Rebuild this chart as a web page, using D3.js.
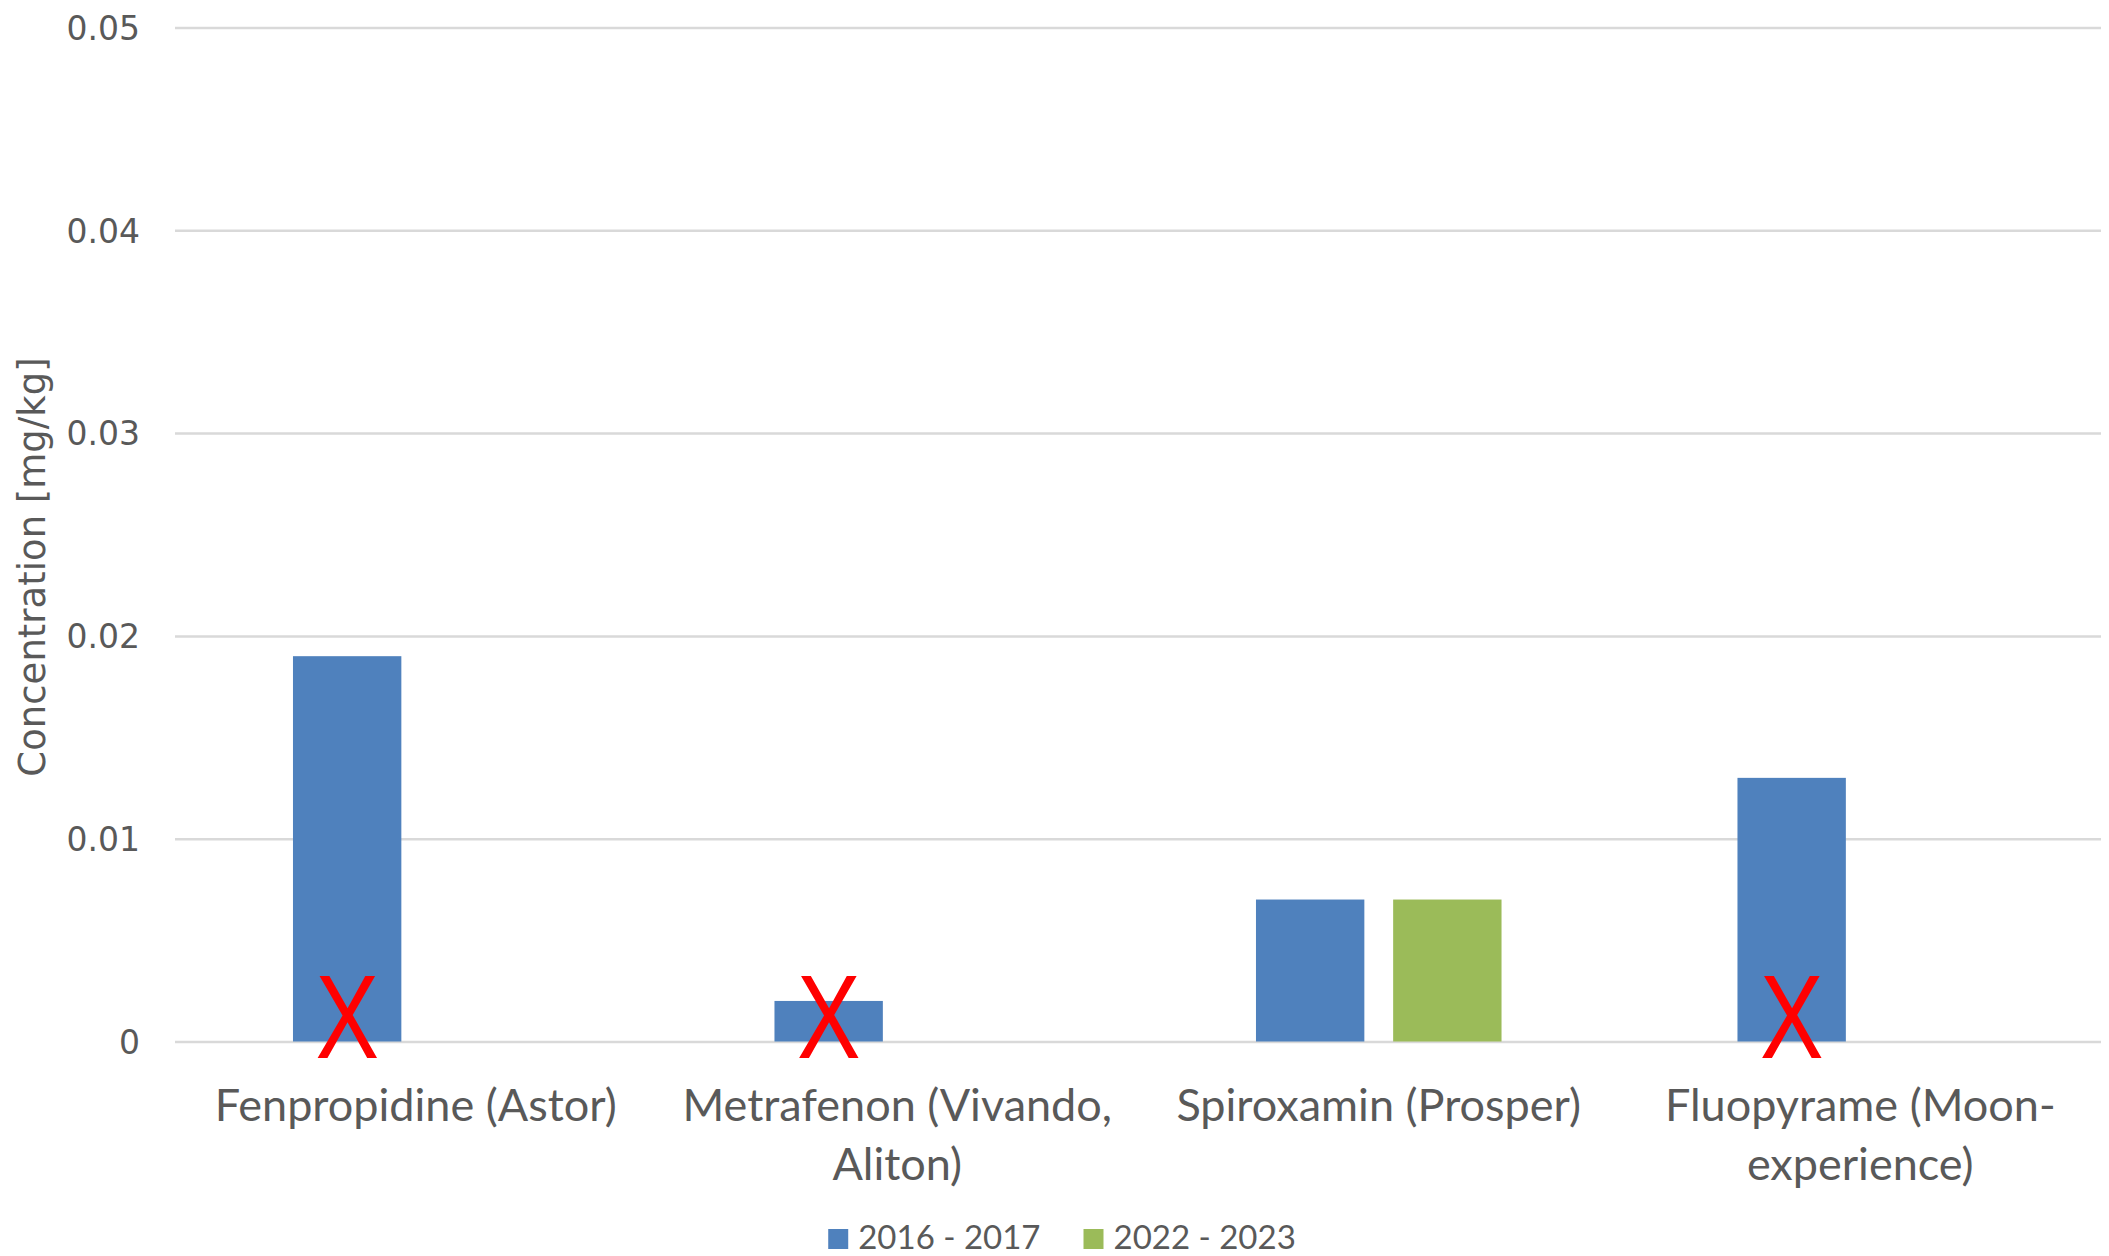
<!DOCTYPE html>
<html>
<head>
<meta charset="utf-8">
<script src="https://cdn.jsdelivr.net/npm/d3@7"></script>
<style>
  body { margin: 0; background: #fff; }
  svg { display: block; }
</style>
</head>
<body>
<svg id="chart"></svg>
<script>
width = 2109;
height = 1256;

// data
var categories = ['Fenpropidine (Astor)', 'Metrafenon (Vivando, Aliton)', 'Spiroxamin (Prosper)', 'Fluopyrame (Moon-experience)'];
var catLines = [['Fenpropidine (Astor)'], ['Metrafenon (Vivando,', 'Aliton)'], ['Spiroxamin (Prosper)'], ['Fluopyrame (Moon-', 'experience)']];
var series = ['2016 - 2017', '2022 - 2023'];
var values2016 = [0.019, 0.002, 0.007, 0.013];
var values2022 = [0, 0, 0.007, 0];
var crossed = [true, true, false, true];
var yTicks = [0, 0.01, 0.02, 0.03, 0.04, 0.05];
var yTickLabels = ['0', '0.01', '0.02', '0.03', '0.04', '0.05'];
var colors = ['#4f81bd', '#9bbb59'];

plotLeft = 175;
plotRight = 2101;
plotTop = 27.5;
plotBottom = 1041.5;
textColor = '#595959';

const svg = d3.select('#chart').attr('width', width).attr('height', height);

const y = d3.scaleLinear().domain([0, 0.05]).range([plotBottom, plotTop]);
const x0 = d3.scaleBand().domain(categories).range([plotLeft, plotRight]).padding(0);
const x1 = d3.scaleBand().domain(series).range([0, x0.bandwidth()])
	.paddingInner(0.21).paddingOuter(0.86);

// y axis + gridlines
const yAxis = svg.append('g')
	.attr('transform', `translate(${plotLeft},0)`)
	.call(d3.axisLeft(y)
		.tickValues(yTicks)
		.tickFormat((d, i) => yTickLabels[i])
		.tickSize(-(plotRight - plotLeft))
		.tickPadding(35));
yAxis.select('.domain').remove();
yAxis.selectAll('.tick line')
	.attr('stroke', '#d9d9d9')
	.attr('stroke-width', 2.5);
yAxis.selectAll('.tick text')
	.attr('fill', textColor)
	.attr('font-family', '"DejaVu Sans", sans-serif')
	.attr('font-size', 33)
	.attr('dy', '0.36em');

// axis title
svg.append('text')
	.attr('transform', `translate(45,567) rotate(-90)`)
	.attr('text-anchor', 'middle')
	.attr('fill', textColor)
	.attr('font-family', '"DejaVu Sans", sans-serif')
	.attr('font-size', 37)
	.text('Concentration [mg/kg]');

// bars
const seriesValues = [values2016, values2022];
const groups = svg.append('g').selectAll('g')
	.data(categories)
	.join('g')
		.attr('transform', d => `translate(${x0(d)},0)`);

groups.selectAll('rect')
	.data((d, i) => series.map((s, j) => ({s: s, v: seriesValues[j][i], c: colors[j]})))
	.join('rect')
		.attr('x', d => x1(d.s))
		.attr('y', d => y(d.v))
		.attr('width', x1.bandwidth())
		.attr('height', d => y(0) - y(d.v))
		.attr('fill', d => d.c);

// red crosses on the first series
groups.filter((d, i) => crossed[i])
	.append('text')
		.attr('transform', `translate(${x1(series[0]) + x1.bandwidth() / 2},${y(0) + 16}) scale(0.8,1)`)
		.attr('text-anchor', 'middle')
		.attr('fill', '#ff0000')
		.attr('font-family', '"Liberation Sans", sans-serif')
		.attr('font-size', 119)
		.text('X');

// category labels
const labels = svg.append('g').selectAll('text')
	.data(categories)
	.join('text')
		.attr('x', d => x0(d) + x0.bandwidth() / 2)
		.attr('y', 1121)
		.attr('text-anchor', 'middle')
		.attr('fill', textColor)
		.attr('font-family', 'Lato, sans-serif')
		.attr('font-size', 45);
labels.selectAll('tspan')
	.data((d, i) => catLines[i])
	.join('tspan')
		.attr('x', function() { return this.parentNode.getAttribute('x'); })
		.attr('dy', (d, i) => i === 0 ? 0 : 59)
		.text(d => d);

// legend
const legend = svg.append('g');
let lx = 0;
series.forEach((s, i) => {
	const item = legend.append('g').attr('transform', `translate(${lx},0)`);
	item.append('rect')
		.attr('x', 0)
		.attr('y', -20)
		.attr('width', 20)
		.attr('height', 20)
		.attr('fill', colors[i]);
	const t = item.append('text')
		.attr('x', 30)
		.attr('y', 0)
		.attr('fill', textColor)
		.attr('font-family', 'Lato, sans-serif')
		.attr('font-size', 33)
		.text(s);
	lx += 30 + t.node().getComputedTextLength() + 43;
});
const legendW = lx - 43;
legend.attr('transform', `translate(${(833 + 1291) / 2 - legendW / 2},1249)`);
</script>
</body>
</html>
